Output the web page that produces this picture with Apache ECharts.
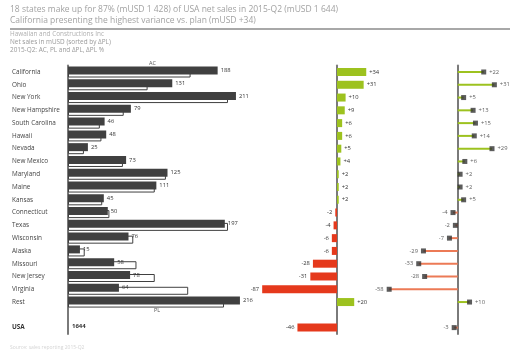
<!DOCTYPE html>
<html>
<head>
<meta charset="utf-8">
<script src="https://cdn.jsdelivr.net/npm/echarts@6/dist/echarts.min.js"></script>
<style>
  html, body { margin: 0; padding: 0; background: #fff; }
  #chart { width: 510px; height: 353px; }
</style>
</head>
<body>
<div id="chart"></div>
<script>
// Net sales by state, 2015-Q2 (mUSD): actuals, plan, absolute and relative variance
const states = ['California', 'Ohio', 'New York', 'New Hampshire', 'South Carolina', 'Hawaii', 'Nevada',
  'New Mexico', 'Maryland', 'Maine', 'Kansas', 'Connecticut', 'Texas', 'Wisconsin', 'Alaska',
  'Missouri', 'New Jersey', 'Virginia', 'Rest'];
const acValues = [188, 131, 211, 79, 46, 48, 25, 73, 125, 111, 45, 50, 197, 76, 15, 58, 78, 64, 216];
const plValues = [154, 100, 201, 70, 40, 42, 20, 69, 123, 109, 43, 52, 201, 82, 21, 86, 109, 151, 196];
const deltaPL = [34, 31, 10, 9, 6, 6, 5, 4, 2, 2, 2, -2, -4, -6, -6, -28, -31, -87, 20];
const deltaPLPct = [22, 31, 5, 13, 15, 14, 29, 6, 2, 2, 5, -4, -2, -7, -29, -33, -28, -58, 10];
const totalLabel = 'USA';
const totalAC = 1644;
const totalDelta = -46;
const totalDeltaPct = -3;

const FONT = 'Open Sans';
const DARK = '#404040';
const GREEN = '#9dc21f';
const RED = '#e5391c';
const RED_LIGHT = '#ec7a56';
const AXIS = '#7a7a7a';

const categories = states.concat(['', totalLabel]);
const signed = v => (v > 0 ? '+' : '') + v;

const gridTop = 65.6, gridHeight = 268.4;

const acData = acValues.concat(['-', {
  value: 0,
  label: { show: true, position: 'right', distance: 4, formatter: String(totalAC), fontWeight: 'bold', fontSize: 6 }
}]);
const plData = plValues.concat(['-', '-']);

const deltaData = deltaPL.concat(['-', totalDelta]).map(v => v === '-' ? '-' : ({
  value: v,
  itemStyle: { color: v >= 0 ? GREEN : RED },
  label: { position: v >= 0 ? 'right' : 'left' }
}));

const pctAll = deltaPLPct.concat(['-', totalDeltaPct]);
const pctStems = pctAll.map(v => v === '-' ? '-' : ({
  value: v, itemStyle: { color: v >= 0 ? GREEN : RED_LIGHT }
}));
const pctDots = [];
pctAll.forEach((v, i) => {
  if (v === '-') return;
  pctDots.push({ value: [v, categories[i]], label: { position: v >= 0 ? 'right' : 'left' } });
});

function yAxisFor(gridIndex, showLabels) {
  return {
    type: 'category', gridIndex, data: categories, inverse: true,
    axisTick: { show: false },
    axisLine: { show: true, lineStyle: { color: AXIS, width: 2 } },
    axisLabel: showLabels ? {
      show: true, align: 'left', margin: 56, fontSize: 6.4, color: '#444', fontFamily: FONT,
      formatter: v => v === totalLabel ? '{b|' + v + '}' : v,
      rich: { b: { fontWeight: 'bold', fontSize: 6.4, color: '#333', fontFamily: FONT } }
    } : { show: false },
    splitLine: { show: false }
  };
}

const valueLabel = { show: true, fontSize: 5.8, color: '#333', fontFamily: FONT, distance: 3 };

const chart = echarts.init(document.getElementById('chart'), null, { renderer: 'canvas' });
chart.setOption({
  animation: false,
  textStyle: { fontFamily: FONT },
  graphic: [
    { type: 'text', left: 10, top: 5, style: { text: '18 states make up for 87% (mUSD 1 428) of USA net sales in 2015-Q2 (mUSD 1 644)', fontSize: 8.5, fill: '#a2a2a2', fontFamily: FONT } },
    { type: 'text', left: 10, top: 16, style: { text: 'California presenting the highest variance vs. plan (mUSD +34)', fontSize: 8.5, fill: '#a2a2a2', fontFamily: FONT } },
    { type: 'rect', shape: { x: 10, y: 28, width: 500, height: 2 }, style: { fill: '#a8a8a8' } },
    { type: 'text', left: 10, top: 31.5, style: { text: 'Hawaiian and Constructions Inc', fontSize: 6.4, fill: '#b0b0b0', fontFamily: FONT } },
    { type: 'text', left: 10, top: 39.5, style: { text: 'Net sales in mUSD (sorted by \u0394PL)', fontSize: 6.4, fill: '#999', fontFamily: FONT } },
    { type: 'text', left: 10, top: 47.5, style: { text: '2015-Q2: AC, PL and \u0394PL, \u0394PL %', fontSize: 6.4, fill: '#999', fontFamily: FONT } },
    { type: 'text', left: 149, top: 60, style: { text: 'AC', fontSize: 5.5, fill: '#555', fontFamily: FONT } },
    { type: 'text', left: 154, top: 307, style: { text: 'PL', fontSize: 5.5, fill: '#555', fontFamily: FONT } },
    { type: 'text', left: 10, top: 345, style: { text: 'Source: sales reporting 2015-Q2', fontSize: 5, fill: '#d4d4d4', fontFamily: FONT } }
  ],
  grid: [
    { left: 68, top: gridTop, width: 199, height: gridHeight },
    { left: 251, top: gridTop, width: 129, height: gridHeight },
    { left: 375, top: gridTop, width: 130, height: gridHeight }
  ],
  xAxis: [
    { type: 'value', gridIndex: 0, min: 0, max: 250, show: false },
    { type: 'value', gridIndex: 1, min: -100, max: 50, show: false },
    { type: 'value', gridIndex: 2, min: -70, max: 40, show: false }
  ],
  yAxis: [yAxisFor(0, true), yAxisFor(1, false), yAxisFor(2, false)],
  series: [
    {
      name: 'AC', type: 'bar', xAxisIndex: 0, yAxisIndex: 0, z: 3,
      barWidth: 8, barGap: '-62%', data: acData,
      itemStyle: { color: DARK },
      label: Object.assign({}, valueLabel, { position: 'right' })
    },
    {
      name: 'PL', type: 'bar', xAxisIndex: 0, yAxisIndex: 0, z: 2,
      barWidth: 8, data: plData,
      itemStyle: { color: '#fff', borderColor: DARK, borderWidth: 1 }
    },
    {
      name: 'ΔPL', type: 'bar', xAxisIndex: 1, yAxisIndex: 1, barWidth: 8, data: deltaData,
      label: Object.assign({}, valueLabel, { formatter: p => signed(p.value) })
    },
    {
      name: 'ΔPL% stem', type: 'bar', xAxisIndex: 2, yAxisIndex: 2, barWidth: 2, data: pctStems
    },
    {
      name: 'ΔPL%', type: 'scatter', xAxisIndex: 2, yAxisIndex: 2, symbol: 'rect', symbolSize: 5,
      itemStyle: { color: '#333' }, data: pctDots, z: 4,
      label: Object.assign({}, valueLabel, { formatter: p => signed(p.value[0]) })
    }
  ]
});
</script>
</body>
</html>
